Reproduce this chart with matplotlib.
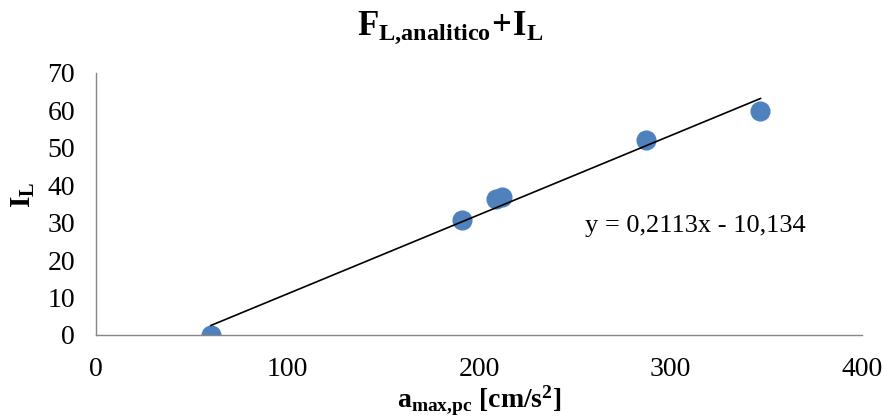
import matplotlib
matplotlib.use("Agg")
import matplotlib.pyplot as plt
import numpy as np

plt.rcParams['font.family'] = ['Liberation Serif', 'DejaVu Serif']
plt.rcParams['mathtext.fontset'] = 'custom'
plt.rcParams['mathtext.rm'] = 'Liberation Serif'
plt.rcParams['mathtext.it'] = 'Liberation Serif:italic'
plt.rcParams['mathtext.bf'] = 'Liberation Serif:bold'

# Measured points: peak acceleration vs. intensity
a_max = [60, 191, 209, 212, 287, 347]
i_l = [0, 30.6, 36.3, 36.8, 52.1, 59.8]

# Linear trendline coefficients
slope = 0.2113
intercept = -10.134
eq_label = "y = 0,2113x - 10,134"

x_ticks = [0, 100, 200, 300, 400]
y_ticks = [0, 10, 20, 30, 40, 50, 60, 70]

fig = plt.figure(figsize=(8.83, 4.2), dpi=100)
ax = fig.add_axes([0.1087, 0.2024, 0.8675, 0.6238])

ax.plot(a_max, i_l, 'o', color='#4F81BD', markersize=13.5, zorder=2)

xl = np.array([min(a_max), max(a_max)])
ax.plot(xl, slope * xl + intercept, color='black', linewidth=1.2, zorder=3)

ax.text(313, 29, eq_label, fontsize=19, ha='center', va='center')

ax.set_xlim(0, 400)
ax.set_ylim(0, 70)
ax.set_xticks(x_ticks)
ax.set_yticks(y_ticks)
ax.tick_params(axis='both', length=0, labelsize=20)
ax.tick_params(axis='y', pad=15)
ax.tick_params(axis='x', pad=16)
for s in ['top', 'right']:
    ax.spines[s].set_visible(False)
for s in ['left', 'bottom']:
    ax.spines[s].set_color('#868686')
    ax.spines[s].set_linewidth(1.0)

fig.text(0.51, 0.935, r'$\mathbf{F_{L{,}analitico}\!+\!I_L}$', fontsize=25,
         ha='center', va='center')
fig.text(0.543, 0.045, r'$\mathbf{a_{max{,}pc}}$ [cm/s$^\mathbf{2}$]', fontsize=20,
         ha='center', va='center', fontweight='bold')
fig.text(0.026, 0.535, r'$\mathbf{I_L}$', fontsize=21, ha='center', va='center',
         rotation=90)

fig.savefig('out.png', dpi=100)
